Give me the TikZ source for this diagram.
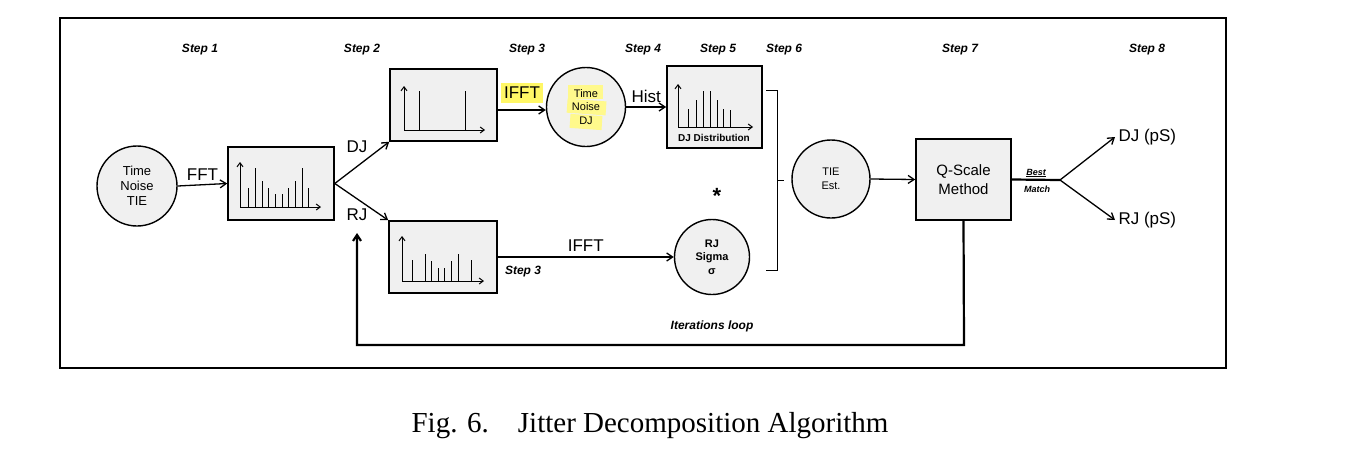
\documentclass[tikz,border=0pt]{standalone}
\usepackage{fontspec}
\setmainfont{Liberation Sans}
\newfontfamily\capfont{Liberation Serif}
\usetikzlibrary{arrows.meta}
\begin{document}
\begin{tikzpicture}[x=1pt,y=-1pt,
  box/.style={draw,line width=1.6pt,fill=black!6},
  circ/.style={draw,line width=1.4pt,fill=black!6,circle,align=center,inner sep=0pt},
  arr/.style={->,line width=1.3pt,>={Straight Barb[length=6pt,width=8pt]}},
  ax/.style={->,line width=1pt,>={Straight Barb[length=4pt,width=6pt]}},
  bar/.style={line width=1pt},
  stp/.style={font=\fontsize{12}{14}\selectfont\bfseries\itshape},
  lab/.style={font=\fontsize{17}{19}\selectfont},
  ctext/.style={font=\fontsize{13}{15}\selectfont}]
\useasboundingbox (0,0) rectangle (1354,461);
\draw[line width=2.5pt] (60,18) rectangle (1226,368);
% steps
\foreach \x/\n in {200/1,362/2,527/3,643/4,718/5,784/6,960/7,1147/8}
  \node[stp] (s\n) at (\x,50) {Step \n};
% nodes
\node[circ,minimum size=80pt,ctext] (tie) at (137,186) {Time\\Noise\\TIE};
\node[box,minimum width=106pt,minimum height=73pt] (b1) at (281,183.5) {};
\node[box,minimum width=107pt,minimum height=72pt] (bdj) at (443.5,105) {};
\node[box,minimum width=108pt,minimum height=72pt] (brj) at (443,257) {};
\node[circ,minimum size=79pt] (cdj) at (586,107) {};
\fill[yellow!45] (568,85) rectangle (603,99);
\fill[yellow!45,rotate around={-4:(586,108)}] (567,100) rectangle (606,114);
\fill[yellow!45,rotate around={-4:(586,122)}] (570,115) rectangle (602,129);
\node[align=center,font=\fontsize{11}{13.5}\selectfont] (cdjt) at (586,107) {Time\\Noise\\DJ};
\node[box,minimum width=95pt,minimum height=82pt] (bdd) at (714.5,107) {};
\node[circ,minimum size=75pt,font=\fontsize{11}{13.5}\selectfont\bfseries] (crj) at (712,257) {RJ\\Sigma\\σ};
\node[circ,minimum size=78pt,font=\fontsize{11}{13.5}\selectfont] (cte) at (831,179) {TIE\\Est.};
\node[box,minimum width=95pt,minimum height=81pt,align=center,font=\fontsize{15}{19}\selectfont] (q) at (963.5,179.5) {Q-Scale\\Method};
\coordinate (bm) at (1060,180);
\node[lab,anchor=west] (odj) at (1115,137) {DJ (pS)};
\node[lab,anchor=west] (orj) at (1115,220) {RJ (pS)};
% spectra
\draw[ax] (240,207) -- (240,162); \draw[ax] (240,207) -- (321,207);
\foreach \x/\t in {248/188,255/168,262/181,268/188,275/194,282/194,288/188,295/181,302/168,308/188}
  \draw[bar] (\x,207) -- (\x,\t);
\draw[ax] (404,130) -- (404,86); \draw[ax] (404,130) -- (485,130);
\draw[bar] (419,130) -- (419,91); \draw[bar] (465,130) -- (465,91);
\draw[ax] (402,281) -- (402,236); \draw[ax] (402,281) -- (484,281);
\foreach \x/\t in {412/260,425/254,431/261,438/268,444/268,451/261,458/254,471/260}
  \draw[bar] (\x,281) -- (\x,\t);
\draw[ax] (678,127) -- (678,84); \draw[ax] (678,127) -- (753,127);
\foreach \x/\t in {688/109,696/100,703/91,710/91,717/100,723/109,730/110}
  \draw[bar] (\x,127) -- (\x,\t);
\node[font=\fontsize{10}{12}\selectfont\bfseries] (ddl) at (714,138) {DJ Distribution};
% connectors
\draw[arr] (tie.east) -- (b1.west) node[midway,above,lab] {FFT};
\draw[arr] (b1.east) -- (bdj.south west);
\draw[arr] (b1.east) -- (brj.north west);
\node[lab] (ldj) at (357,147) {DJ};
\node[lab] (lrj) at (357,215) {RJ};
\draw[arr] (bdj.east |- 0,110) -- (cdj.west |- 0,110);
\fill[yellow!60] (501,83) rectangle (543,103);
\node[lab] (lifft) at (522,93) {IFFT};
\draw[arr] (cdj.east) -- (bdd.west) node[midway,above,lab] {Hist};
\draw[arr] (brj.east) -- (crj.west) node[midway,above,lab,yshift=2pt] {IFFT};
\node[stp] (s3b) at (523,272) {Step 3};
\node[font=\fontsize{22}{22}\selectfont\bfseries] (star) at (717,196) {*};
\draw[line width=0.8pt] (766,90) -- (777,90) -- (777,180) -- (784,180) (777,180) -- (777,270) -- (766,270);
\draw[arr] (cte.east) -- (q.west);
\draw[line width=2.2pt] (q.east) -- (bm);
\node[font=\fontsize{9}{10}\selectfont\bfseries\itshape] (best) at (1036,173) {\underline{Best}};
\node[font=\fontsize{9}{10}\selectfont\bfseries\itshape] (match) at (1037,189) {Match};
\draw[arr] (bm) -- (odj.west);
\draw[arr] (bm) -- (orj.west);
\draw[arr,line width=2.2pt] (q.south) -- (964,345) -- (357,345) -- (357,233);
\node[stp] (it) at (712,326) {Iterations loop};
\node[font=\fontsize{29}{32}\selectfont\capfont] (cap) at (650,426) {Fig. 6.\quad Jitter Decomposition Algorithm};
\end{tikzpicture}
\end{document}
